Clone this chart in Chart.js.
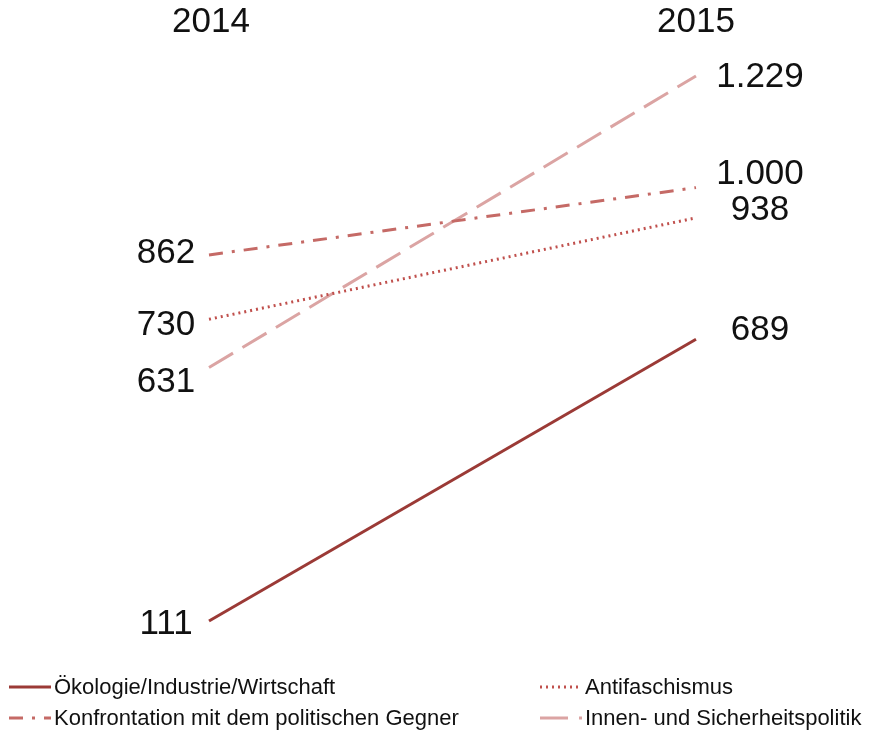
<!DOCTYPE html>
<html>
<head>
<meta charset="utf-8">
<script src="https://cdn.jsdelivr.net/npm/chart.js@4"></script>
<style>
  html, body { margin: 0; padding: 0; background: #fff; }
  canvas { display: block; }
</style>
</head>
<body>
<canvas id="slope" width="877" height="734"></canvas>
<script>
const years = ["2014", "2015"];
const oekologie = [111, 689];
const konfrontation = [862, 1000];
const antifa = [730, 938];
const innen = [631, 1229];
const seriesNames = [
  "Ökologie/Industrie/Wirtschaft",
  "Konfrontation mit dem politischen Gegner",
  "Antifaschismus",
  "Innen- und Sicherheitspolitik"
];

// small vertical nudges so the value labels don't collide (2014 side, 2015 side)
const labelNudge = [[3, -9], [-2, -13], [6, -8], [15, 1]];

const FONT = "'Liberation Sans', Arial, sans-serif";

function fmt(v) {
  return String(v).replace(/\B(?=(\d{3})+(?!\d))/g, ".");
}

const labelsPlugin = {
  id: "slopeLabels",
  afterDatasetsDraw(chart) {
    const ctx = chart.ctx;
    ctx.save();
    ctx.fillStyle = "#111";
    ctx.font = "35px " + FONT;
    ctx.textAlign = "center";
    ctx.textBaseline = "middle";
    const xs = chart.scales.x;
    ctx.fillText(years[0], xs.getPixelForValue(0) + 2, 22);
    ctx.fillText(years[1], xs.getPixelForValue(1), 22);
    chart.data.datasets.forEach((ds, i) => {
      const meta = chart.getDatasetMeta(i);
      meta.data.forEach((pt, j) => {
        const x = j === 0 ? pt.x - 43 : pt.x + 64;
        ctx.fillText(fmt(ds.data[j]), x, pt.y + labelNudge[i][j]);
      });
    });
    ctx.restore();
  }
};

const legendPlugin = {
  id: "bottomLegend",
  afterDraw(chart) {
    const ctx = chart.ctx;
    const spots = [[9, 688], [9, 719], [540, 688], [540, 719]];
    ctx.save();
    ctx.font = "22px " + FONT;
    ctx.textBaseline = "middle";
    ctx.textAlign = "left";
    chart.data.datasets.forEach((ds, i) => {
      const [x, y] = spots[i];
      ctx.strokeStyle = ds.borderColor;
      ctx.lineWidth = ds.borderWidth;
      ctx.setLineDash(ds.borderDash || []);
      ctx.beginPath();
      ctx.moveTo(x, y - 1);
      ctx.lineTo(x + 42, y - 1);
      ctx.stroke();
      ctx.setLineDash([]);
      ctx.fillStyle = "#111";
      ctx.fillText(ds.label, x + 45, y);
    });
    ctx.restore();
  }
};

new Chart(document.getElementById("slope").getContext("2d"), {
  type: "line",
  data: {
    labels: years,
    datasets: [
      {
        label: seriesNames[0],
        data: oekologie,
        borderColor: "#9b3a36",
        borderWidth: 3,
        pointRadius: 0
      },
      {
        label: seriesNames[1],
        data: konfrontation,
        borderColor: "#c56a66",
        borderWidth: 3,
        borderDash: [14, 9, 3, 9],
        pointRadius: 0
      },
      {
        label: seriesNames[2],
        data: antifa,
        borderColor: "#c0504d",
        borderWidth: 3,
        borderDash: [2, 4],
        pointRadius: 0
      },
      {
        label: seriesNames[3],
        data: innen,
        borderColor: "#dba4a3",
        borderWidth: 3,
        borderDash: [28, 11],
        pointRadius: 0
      }
    ]
  },
  options: {
    responsive: false,
    animation: false,
    clip: false,
    layout: { padding: { left: 209, right: 181, top: 76, bottom: 113 } },
    scales: {
      x: { display: false, offset: false },
      y: { display: false, min: 111, max: 1229 }
    },
    plugins: {
      legend: { display: false },
      tooltip: { enabled: false }
    }
  },
  plugins: [labelsPlugin, legendPlugin]
});
</script>
</body>
</html>
